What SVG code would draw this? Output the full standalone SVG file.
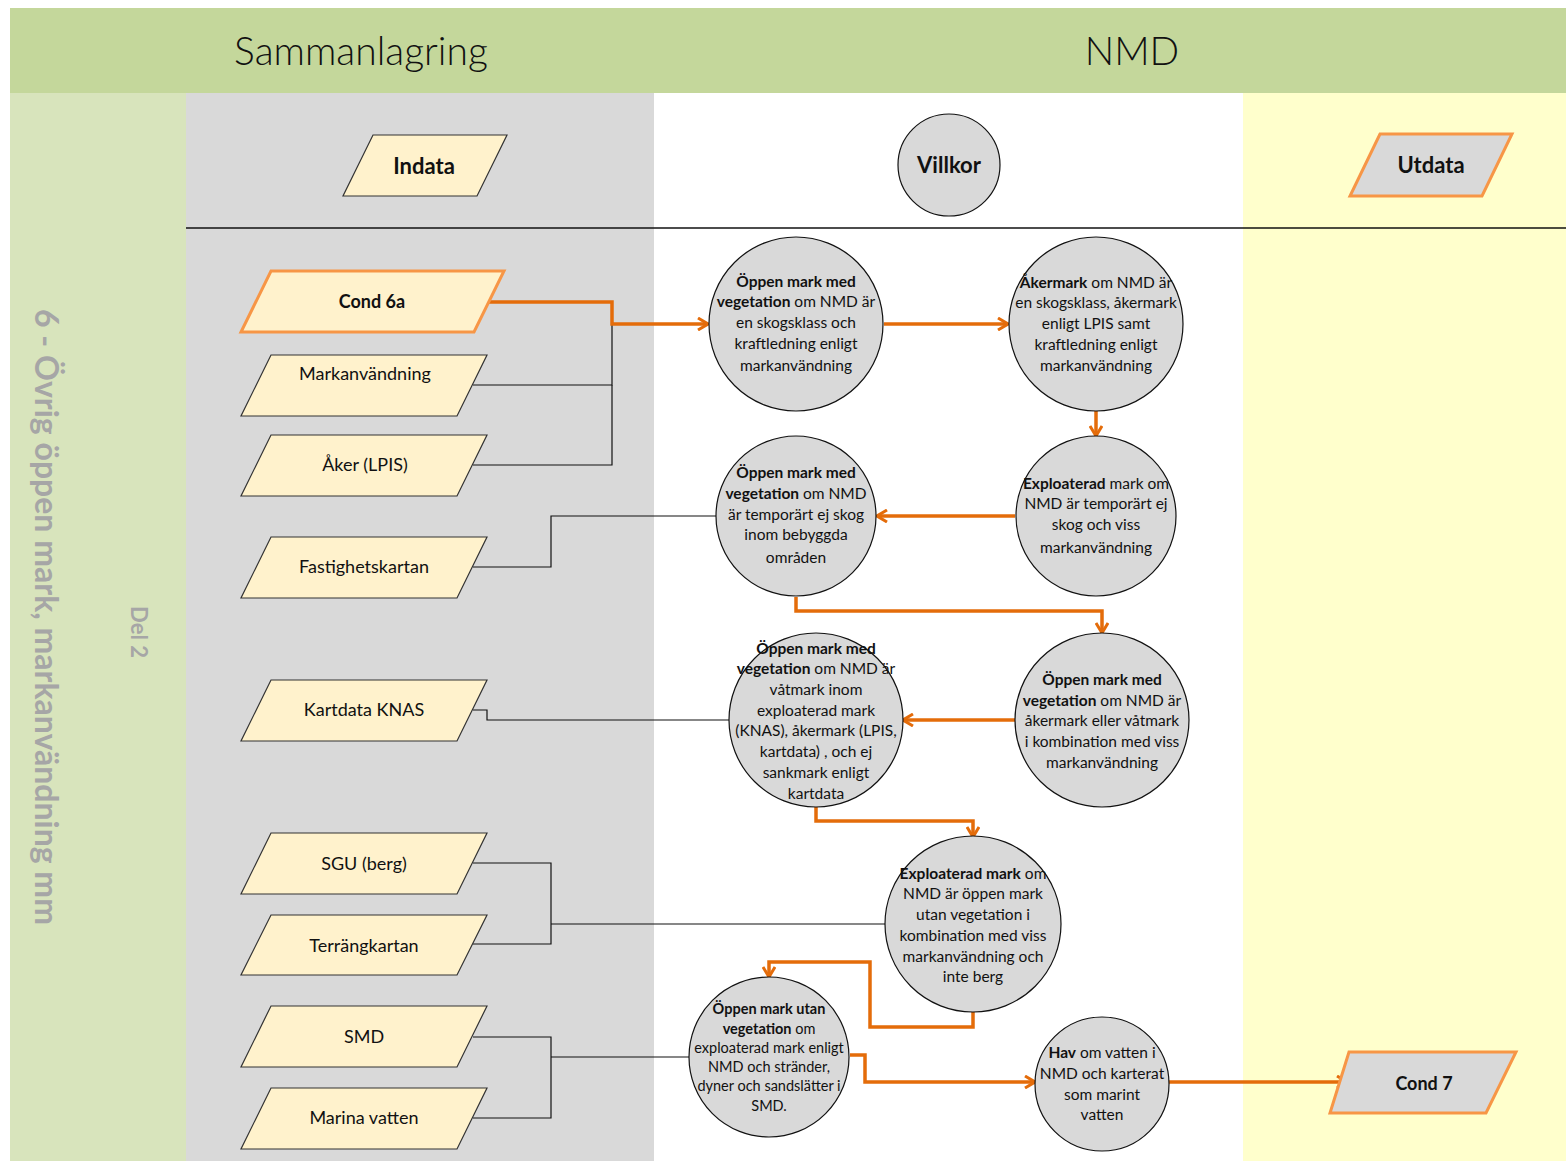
<svg xmlns="http://www.w3.org/2000/svg" width="1566" height="1161" viewBox="0 0 1566 1161">
<defs>
<style>
.in{fill:#fff2cc;stroke:#333;stroke-width:1.2}
.inO{fill:#fff2cc;stroke:#f79646;stroke-width:3}
.out{fill:#d9d9d9;stroke:#f79646;stroke-width:3}
.c{fill:#d9d9d9;stroke:#111;stroke-width:1.2}
.t{font-family:Lato,"Liberation Sans",sans-serif;fill:#111;text-anchor:middle}
.ct{font-size:15.5px}
.b{font-weight:bold}
.hd{font-family:Lato,"Liberation Sans",sans-serif;font-weight:300;font-size:39px;fill:#111;text-anchor:middle}
.k{fill:none;stroke:#111;stroke-width:1.2}
.o{fill:none;stroke:#e46c0a;stroke-width:3.5;marker-end:url(#ah)}
</style>
<marker id="ah" viewBox="0 0 12 14" refX="11" refY="7" markerWidth="12" markerHeight="14" markerUnits="userSpaceOnUse" orient="auto">
<path d="M1,1 L11,7 L1,13" fill="none" stroke="#e46c0a" stroke-width="3"/>
</marker>
</defs>
<rect width="1566" height="1161" fill="#fff"/>
<rect x="10" y="8" width="1556" height="85" fill="#c4d79b"/>
<rect x="10" y="93" width="176" height="1068" fill="#d8e4bc"/>
<rect x="186" y="93" width="468" height="1068" fill="#d9d9d9"/>
<rect x="654" y="93" width="589" height="1068" fill="#ffffff"/>
<rect x="1243" y="93" width="323" height="1068" fill="#ffffcc"/>
<line x1="186" y1="228" x2="1566" y2="228" stroke="#111" stroke-width="1.5"/>
<text class="hd" x="361" y="65">Sammanlagring</text>
<text class="hd" x="1132" y="65">NMD</text>
<text transform="translate(35,617) rotate(90)" font-family="Lato,'Liberation Sans',sans-serif" font-weight="bold" font-size="32" fill="#a6a6a6" text-anchor="middle">6 - Övrig öppen mark, markanvändning mm</text>
<text transform="translate(131,632) rotate(90)" font-family="Lato,'Liberation Sans',sans-serif" font-weight="bold" font-size="22" fill="#a6a6a6" text-anchor="middle">Del 2</text>

<g id="connectors">
<path class="k" d="M473,385 H612 V324 H706"/>
<path class="k" d="M473,465 H612 V385"/>
<path class="k" d="M473,567 H551 V516 H716"/>
<path class="k" d="M473,710 H487 V720 H730"/>
<path class="k" d="M473,863 H551 V944 H473"/>
<path class="k" d="M551,924 H886"/>
<path class="k" d="M473,1037 H551 V1118 H473"/>
<path class="k" d="M551,1057 H690"/>
<path class="o" d="M488,302 H612 V324 H708"/>
<path class="o" d="M884,324 H1008"/>
<path class="o" d="M1096,411 V436"/>
<path class="o" d="M1015,516 H877"/>
<path class="o" d="M796,597 V611 H1102 V633"/>
<path class="o" d="M1015,720 H903"/>
<path class="o" d="M816,807 V821 H973 V837"/>
<path class="o" d="M973,1012 V1027 H870 V962 H769 V977"/>
<path class="o" d="M850,1055 H865 V1082 H1035"/>
<path class="o" d="M1169,1082 H1347"/>
</g>

<g id="indata"><polygon class="in" points="373,135 507,135 477,196 343,196"/><text class="t b" x="424" y="174" font-size="22">Indata</text></g>
<g id="villkor"><circle class="c" cx="949" cy="165" r="51"/><text class="t b" x="949" y="173" font-size="22">Villkor</text></g>
<g id="utdata"><polygon class="out" points="1380,134 1512,134 1482,196 1350,196"/><text class="t b" x="1431" y="173" font-size="22">Utdata</text></g>

<g id="cond6a"><polygon class="inO" points="271,271 504,271 474,332 241,332"/><text class="t b" x="372" y="308" font-size="18">Cond 6a</text></g>
<g id="markanvandning"><polygon class="in" points="271,355 487,355 457,416 241,416"/><text class="t" x="365" y="380" font-size="18">Markanvändning</text></g>
<g id="aker"><polygon class="in" points="271,435 487,435 457,496 241,496"/><text class="t" x="365" y="471" font-size="18">Åker (LPIS)</text></g>
<g id="fastighetskartan"><polygon class="in" points="271,537 487,537 457,598 241,598"/><text class="t" x="364" y="573" font-size="18">Fastighetskartan</text></g>
<g id="kartdata"><polygon class="in" points="271,680 487,680 457,741 241,741"/><text class="t" x="364" y="716" font-size="18">Kartdata KNAS</text></g>
<g id="sgu"><polygon class="in" points="271,833 487,833 457,894 241,894"/><text class="t" x="364" y="870" font-size="18">SGU (berg)</text></g>
<g id="terrang"><polygon class="in" points="271,915 487,915 457,975 241,975"/><text class="t" x="364" y="952" font-size="18">Terrängkartan</text></g>
<g id="smd"><polygon class="in" points="271,1006 487,1006 457,1067 241,1067"/><text class="t" x="364" y="1043" font-size="18">SMD</text></g>
<g id="marina"><polygon class="in" points="271,1088 487,1088 457,1149 241,1149"/><text class="t" x="364" y="1124" font-size="18">Marina vatten</text></g>

<g id="c1"><circle class="c" cx="796" cy="324" r="87"/>
<text class="t ct" x="796"><tspan x="796" y="287" class="b">Öppen mark med</tspan><tspan x="796" y="307"><tspan class="b">vegetation</tspan>  om NMD är</tspan><tspan x="796" y="328">en skogsklass och</tspan><tspan x="796" y="349">kraftledning enligt</tspan><tspan x="796" y="371">markanvändning</tspan></text></g>
<g id="c2"><circle class="c" cx="1096" cy="324" r="87"/>
<text class="t ct"><tspan x="1096" y="288"><tspan class="b">Åkermark</tspan> om NMD är</tspan><tspan x="1096" y="308">en skogsklass, åkermark</tspan><tspan x="1096" y="329">enligt LPIS samt</tspan><tspan x="1096" y="350">kraftledning enligt</tspan><tspan x="1096" y="371">markanvändning</tspan></text></g>
<g id="c3"><circle class="c" cx="1096" cy="516" r="80"/>
<text class="t ct"><tspan x="1096" y="489"><tspan class="b">Exploaterad</tspan> mark om</tspan><tspan x="1096" y="509">NMD är temporärt ej</tspan><tspan x="1096" y="530">skog och viss</tspan><tspan x="1096" y="553">markanvändning</tspan></text></g>
<g id="c4"><circle class="c" cx="796" cy="516" r="80"/>
<text class="t ct"><tspan x="796" y="478" class="b">Öppen mark med</tspan><tspan x="796" y="499"><tspan class="b">vegetation</tspan> om NMD</tspan><tspan x="796" y="520">är temporärt ej skog</tspan><tspan x="796" y="540">inom bebyggda</tspan><tspan x="796" y="563">områden</tspan></text></g>
<g id="c5"><circle class="c" cx="1102" cy="720" r="87"/>
<text class="t ct"><tspan x="1102" y="685" class="b">Öppen mark med</tspan><tspan x="1102" y="706"><tspan class="b">vegetation</tspan>  om NMD är</tspan><tspan x="1102" y="726">åkermark eller våtmark</tspan><tspan x="1102" y="747">i kombination med viss</tspan><tspan x="1102" y="768">markanvändning</tspan></text></g>
<g id="c6"><circle class="c" cx="816" cy="720" r="87"/>
<text class="t ct"><tspan x="816" y="654" class="b">Öppen mark med</tspan><tspan x="816" y="674"><tspan class="b">vegetation</tspan> om NMD är</tspan><tspan x="816" y="695">våtmark inom</tspan><tspan x="816" y="716">exploaterad mark</tspan><tspan x="816" y="736">(KNAS), åkermark (LPIS,</tspan><tspan x="816" y="757">kartdata) , och ej</tspan><tspan x="816" y="778">sankmark enligt</tspan><tspan x="816" y="799">kartdata</tspan></text></g>
<g id="c7"><circle class="c" cx="973" cy="924" r="88"/>
<text class="t ct"><tspan x="973" y="879"><tspan class="b">Exploaterad mark</tspan> om</tspan><tspan x="973" y="899">NMD är öppen mark</tspan><tspan x="973" y="920">utan vegetation i</tspan><tspan x="973" y="941">kombination med viss</tspan><tspan x="973" y="962">markanvändning och</tspan><tspan x="973" y="982">inte berg</tspan></text></g>
<g id="c8"><circle class="c" cx="769" cy="1057" r="80"/>
<text class="t" font-size="14.5"><tspan x="769" y="1014" class="b">Öppen mark utan</tspan><tspan x="769" y="1034"><tspan class="b">vegetation</tspan> om</tspan><tspan x="769" y="1053">exploaterad mark enligt</tspan><tspan x="769" y="1072">NMD och stränder,</tspan><tspan x="769" y="1091">dyner och sandslätter i</tspan><tspan x="769" y="1111">SMD.</tspan></text></g>
<g id="c9"><circle class="c" cx="1102" cy="1084" r="67"/>
<text class="t ct"><tspan x="1102" y="1058"><tspan class="b">Hav</tspan> om vatten i</tspan><tspan x="1102" y="1079">NMD och karterat</tspan><tspan x="1102" y="1100">som marint</tspan><tspan x="1102" y="1120">vatten</tspan></text></g>
<g id="cond7"><polygon class="out" points="1349,1052 1516,1052 1486,1113 1330,1113"/><text class="t b" x="1424" y="1090" font-size="18">Cond 7</text></g>
</svg>
